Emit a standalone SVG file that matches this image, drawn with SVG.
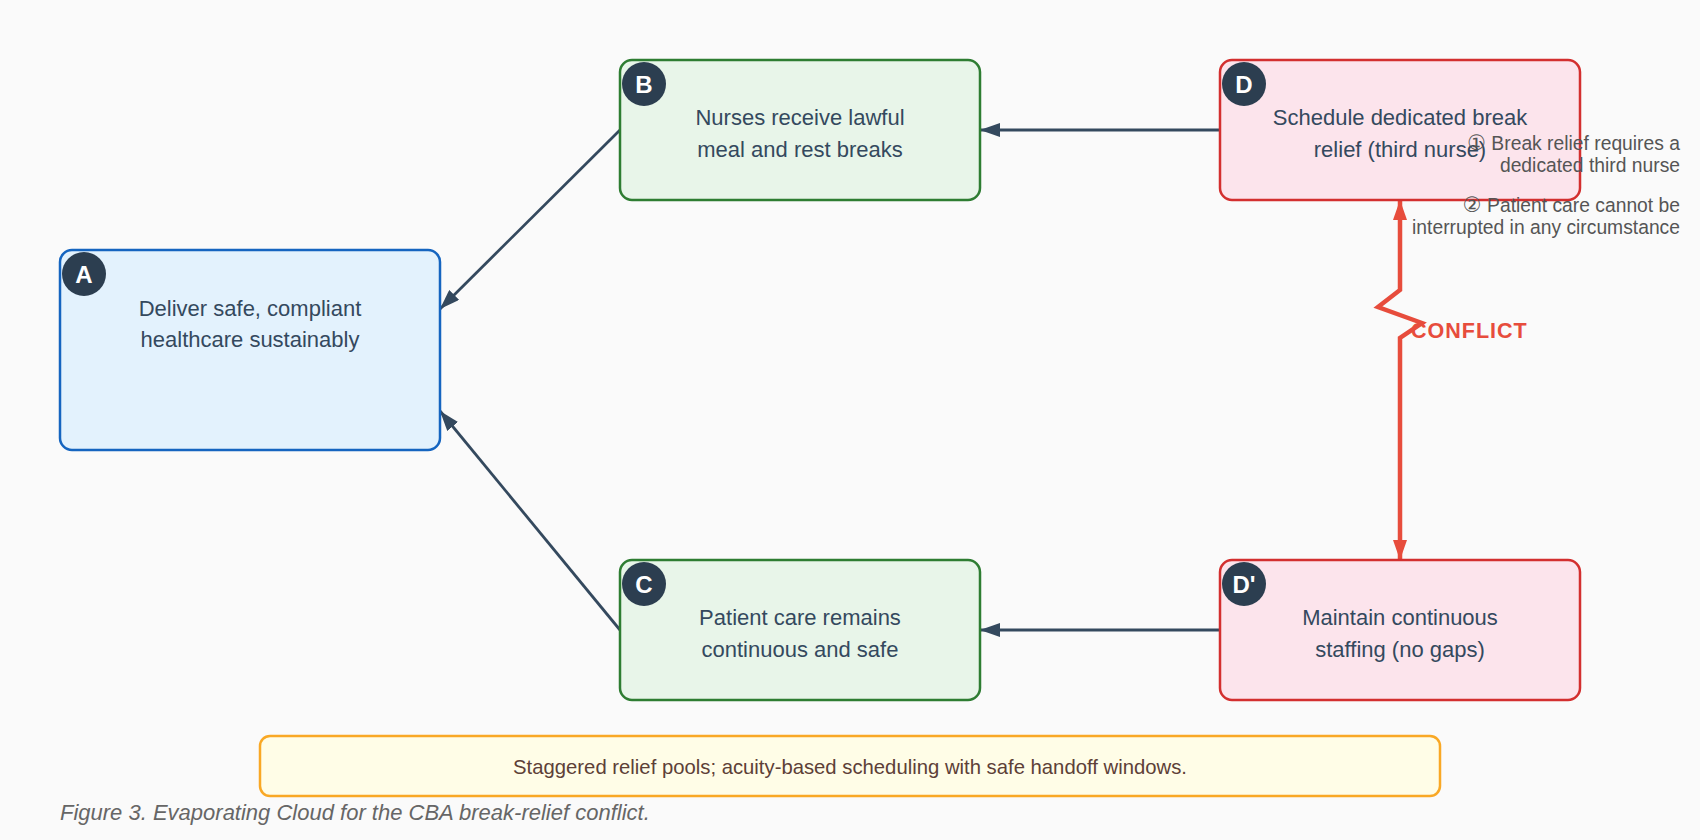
<svg xmlns="http://www.w3.org/2000/svg" width="1700" height="840" viewBox="0 0 1700 840">
<defs>
<style>
.box{stroke-width:2.5}
.a{fill:#e3f2fd;stroke:#1565c0}
.g{fill:#e8f5e9;stroke:#2e7d32}
.r{fill:#fce4ec;stroke:#d32f2f}
.badge{fill:#2c3e50}
.bl{font-family:"Liberation Sans",Arial,sans-serif;font-weight:bold;font-size:24px;fill:#fff;text-anchor:middle}
.t{font-family:"Liberation Sans",Arial,sans-serif;font-size:22px;fill:#34495e;text-anchor:middle}
.note{font-family:"Liberation Sans","DejaVu Sans",Arial,sans-serif;font-size:19.3px;fill:#555;text-anchor:end}
.num{font-family:"DejaVu Sans",sans-serif;font-size:21px}
.conn{stroke:#34495e;stroke-width:2.8;fill:none}
.cf{stroke:#e74c3c;stroke-width:4.5;fill:none;stroke-linejoin:miter}
</style>
<marker id="ah" viewBox="0 0 20 14" refX="20" refY="7" markerWidth="20" markerHeight="14" markerUnits="userSpaceOnUse" orient="auto">
<path d="M0,0 L20,7 L0,14 Z" fill="#34495e"/>
</marker>
<marker id="rh" viewBox="0 0 20 14" refX="20" refY="7" markerWidth="20" markerHeight="14" markerUnits="userSpaceOnUse" orient="auto-start-reverse">
<path d="M0,0 L20,7 L0,14 Z" fill="#e74c3c"/>
</marker>
</defs>
<rect width="1700" height="840" fill="#fafafa"/>
<g id="connectors">
<line class="conn" x1="620" y1="130" x2="440" y2="309" marker-end="url(#ah)"/>
<line class="conn" x1="620" y1="630" x2="440" y2="411" marker-end="url(#ah)"/>
<line class="conn" x1="1220" y1="130" x2="980" y2="130" marker-end="url(#ah)"/>
<line class="conn" x1="1220" y1="630" x2="980" y2="630" marker-end="url(#ah)"/>
<polyline class="cf" points="1400,200 1400,290 1378,307 1422,323 1400,338 1400,560" marker-start="url(#rh)" marker-end="url(#rh)"/>
<text x="1411" y="338" font-family="Liberation Sans,Arial,sans-serif" font-weight="bold" font-size="21.5px" letter-spacing="1" fill="#e74c3c">CONFLICT</text>
</g>
<g id="A">
<rect class="box a" x="60" y="250" width="380" height="200" rx="12"/>
<circle class="badge" cx="84" cy="274" r="22"/>
<text class="bl" x="84" y="283">A</text>
<text class="t" x="250" y="316">Deliver safe, compliant</text>
<text class="t" x="250" y="347">healthcare sustainably</text>
</g>
<g id="B">
<rect class="box g" x="620" y="60" width="360" height="140" rx="12"/>
<circle class="badge" cx="644" cy="84" r="22"/>
<text class="bl" x="644" y="93">B</text>
<text class="t" x="800" y="125">Nurses receive lawful</text>
<text class="t" x="800" y="157">meal and rest breaks</text>
</g>
<g id="C">
<rect class="box g" x="620" y="560" width="360" height="140" rx="12"/>
<circle class="badge" cx="644" cy="584" r="22"/>
<text class="bl" x="644" y="593">C</text>
<text class="t" x="800" y="625">Patient care remains</text>
<text class="t" x="800" y="657">continuous and safe</text>
</g>
<g id="D">
<rect class="box r" x="1220" y="60" width="360" height="140" rx="12"/>
<circle class="badge" cx="1244" cy="84" r="22"/>
<text class="bl" x="1244" y="93">D</text>
<text class="t" x="1400" y="125">Schedule dedicated break</text>
<text class="t" x="1400" y="157">relief (third nurse)</text>
</g>
<g id="Dp">
<rect class="box r" x="1220" y="560" width="360" height="140" rx="12"/>
<circle class="badge" cx="1244" cy="584" r="22"/>
<text class="bl" x="1244" y="593">D'</text>
<text class="t" x="1400" y="625">Maintain continuous</text>
<text class="t" x="1400" y="657">staffing (no gaps)</text>
</g>
<g id="assumptions">
<text class="note" x="1680" y="150"><tspan class="num">①</tspan> Break relief requires a</text>
<text class="note" x="1680" y="172">dedicated third nurse</text>
<text class="note" x="1680" y="212"><tspan class="num">②</tspan> Patient care cannot be</text>
<text class="note" x="1680" y="234">interrupted in any circumstance</text>
</g>
<g id="injection">
<rect x="260" y="736" width="1180" height="60" rx="10" fill="#fffde7" stroke="#f9a825" stroke-width="2.5"/>
<text x="850" y="774" font-family="Liberation Sans,Arial,sans-serif" font-size="20.3px" fill="#5d4037" text-anchor="middle">Staggered relief pools; acuity-based scheduling with safe handoff windows.</text>
</g>
<text x="60" y="820" font-family="Liberation Sans,Arial,sans-serif" font-style="italic" font-size="22px" fill="#666">Figure 3. Evaporating Cloud for the CBA break-relief conflict.</text>
</svg>
